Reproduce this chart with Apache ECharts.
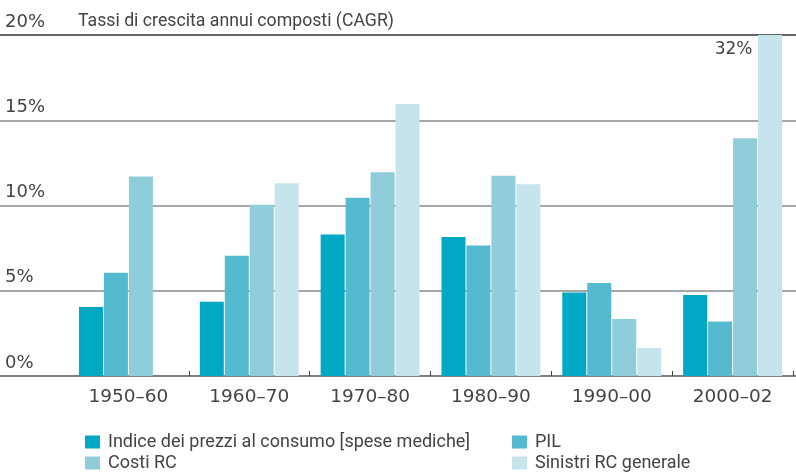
<!DOCTYPE html>
<html>
<head>
<meta charset="utf-8">
<script src="https://cdn.jsdelivr.net/npm/echarts@6/dist/echarts.min.js"></script>
<style>html,body{margin:0;padding:0;background:#fff;}#c{width:796px;height:473px;}</style>
</head>
<body>
<div id="c"></div>
<script>
var categories = ['1950–60', '1960–70', '1970–80', '1980–90', '1990–00', '2000–02'];
var cpi = [4.05, 4.35, 8.3, 8.15, 4.9, 4.75];
var pil = [6.05, 7.05, 10.45, 7.65, 5.45, 3.2];
var costi = [11.7, 10.05, 11.95, 11.75, 3.35, 13.95];
var sinistri = [null, 11.3, 15.95, 11.25, 1.65, 32];
var yTicks = [0, 5, 10, 15, 20];
var title = 'Tassi di crescita annui composti (CAGR)';
var names = ['Indice dei prezzi al consumo [spese mediche]', 'PIL', 'Costi RC', 'Sinistri RC generale'];
var colors = ['#00a8c3', '#55b9d0', '#8fcddb', '#c5e4eb'];

var FONT = 'Roboto';
var NUMFONT = 'DejaVu Sans';
var chart = echarts.init(document.getElementById('c'), null, {renderer: 'canvas'});
var option = {
  animation: false,
  textStyle: {fontFamily: FONT},
  title: {
    text: title, left: 73, top: 8,
    textStyle: {fontFamily: FONT, fontSize: 17.7, fontWeight: 'normal', color: '#444'}
  },
  grid: [
    {left: 0, right: 0, top: 35, bottom: 97},
    {left: 68, right: 3, top: 35, bottom: 97}
  ],
  xAxis: [
    {gridIndex: 0, type: 'value', show: false, min: 0, max: 1},
    {
      gridIndex: 1, type: 'category', data: categories,
      axisLine: {show: false},
      axisTick: {show: true, inside: true, length: 5, lineStyle: {color: '#444'},
        interval: function (index) { return index !== 0; }},
      axisLabel: {fontFamily: NUMFONT, fontSize: 18.5, color: '#444', margin: 12}
    }
  ],
  yAxis: [
    {
      gridIndex: 0, type: 'value', min: yTicks[0], max: yTicks[yTicks.length - 1], interval: 5,
      axisLine: {show: false}, axisTick: {show: false},
      axisLabel: {
        inside: false, align: 'left', verticalAlign: 'bottom', margin: -5,
        padding: [0, 0, 4, 0],
        fontFamily: NUMFONT, fontSize: 18, color: '#444',
        formatter: function (v) { return v + '%'; }
      },
      splitLine: {lineStyle: {color: ['#555', '#8a8a8a', '#8a8a8a', '#8a8a8a', '#333'], width: 1.5}}
    },
    {
      gridIndex: 1, type: 'value', min: 0, max: 20, interval: 5,
      show: false, splitLine: {show: false}
    }
  ],
  legend: [
    {
      data: [names[0], names[2]], orient: 'vertical', left: 80, top: 428, height: 80,
      itemWidth: 15, itemHeight: 13, itemGap: 3, icon: 'rect',
      textStyle: {fontFamily: FONT, fontSize: 18, color: '#444', padding: [0, 0, 0, 3]}
    },
    {
      data: [names[1], names[3]], orient: 'vertical', left: 507, top: 428, height: 80,
      itemWidth: 15, itemHeight: 13, itemGap: 3, icon: 'rect', align: 'left',
      textStyle: {fontFamily: FONT, fontSize: 18, color: '#444', padding: [0, 0, 0, 3]}
    }
  ],
  series: [
    {name: names[0], type: 'bar', xAxisIndex: 1, yAxisIndex: 1, data: cpi, barWidth: 24, barGap: '4%', itemStyle: {color: colors[0]}},
    {name: names[1], type: 'bar', xAxisIndex: 1, yAxisIndex: 1, data: pil, barWidth: 24, barGap: '4%', itemStyle: {color: colors[1]}},
    {name: names[2], type: 'bar', xAxisIndex: 1, yAxisIndex: 1, data: costi, barWidth: 24, barGap: '4%', itemStyle: {color: colors[2]}},
    {name: names[3], type: 'bar', xAxisIndex: 1, yAxisIndex: 1, data: sinistri, barWidth: 24, barGap: '4%', clip: true, itemStyle: {color: colors[3]},
      markPoint: {
        symbol: 'circle', symbolSize: 1, itemStyle: {color: 'rgba(0,0,0,0)'},
        data: [{coord: [categories[5], 20], value: sinistri[5]}],
        label: {show: true, position: 'left', distance: 0, offset: [-17, 15],
          fontFamily: NUMFONT, fontSize: 17, color: '#444',
          formatter: function (p) { return p.value + '%'; }}
      }
    }
  ]
};
chart.setOption(option);
</script>
</body>
</html>
